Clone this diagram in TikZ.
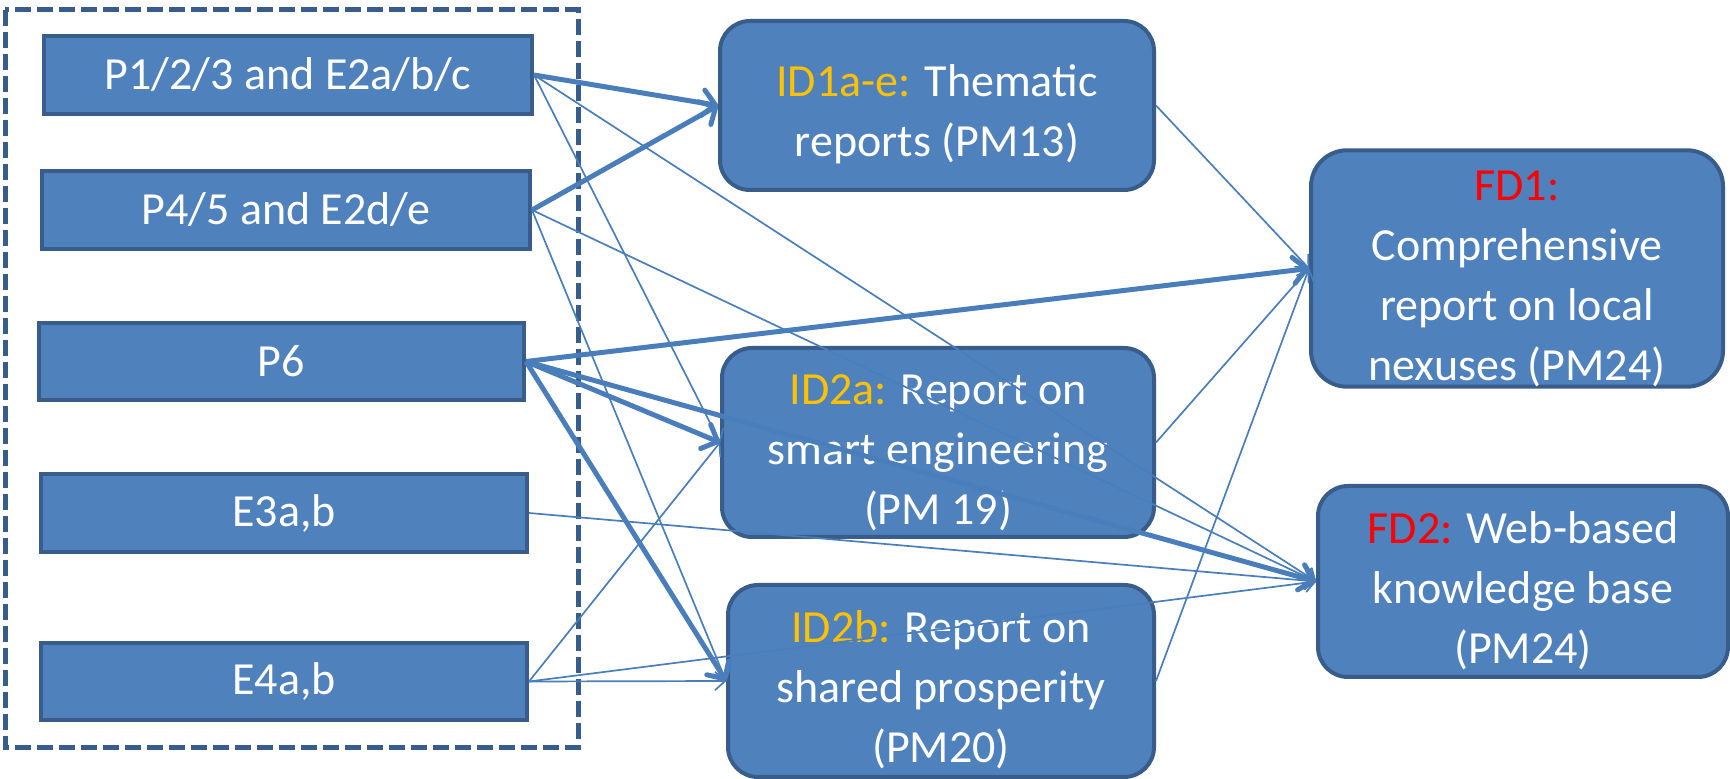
\documentclass[tikz,border=0pt]{standalone}
\usepackage{fontspec}
\setmainfont{Carlito}
\usetikzlibrary{arrows.meta}
\definecolor{boxfill}{HTML}{4F81BD}
\definecolor{boxline}{HTML}{385D8A}
\definecolor{conn}{HTML}{4A7EBB}
\definecolor{idorange}{HTML}{FFC000}
\definecolor{fdred}{HTML}{FF0000}
\newcommand{\firstline}{\rule{0pt}{25pt}}
\begin{document}
\begin{tikzpicture}[x=0.5pt,y=-0.5pt,
  base/.style={draw=boxline, line width=2pt, fill=boxfill, text=white,
    font=\fontsize{23}{30}\selectfont, inner sep=0pt, align=center},
  srcbox/.style={base, rectangle, minimum height=39pt, minimum width=243pt},
  outbox/.style={base, rectangle, rounded corners=15pt},
  thinarrow/.style={draw=conn, line width=0.85pt, -{Straight Barb[round,length=5pt,width=9pt]}},
  thickarrow/.style={draw=conn, line width=2.5pt, -{Straight Barb[round,length=6.5pt,width=13pt]}},
  groupbox/.style={draw=boxline, line width=2.5pt, dash pattern=on 8pt off 3pt},
]
\useasboundingbox (0,0) rectangle (1730,779);

\draw[groupbox] (5,10) rectangle (578,748);

\node[srcbox, minimum width=244pt] (b1) at (288,75) {P1/2/3 and E2a/b/c};
\node[srcbox, minimum width=244pt] (b2) at (286,210) {P4/5 and E2d/e};
\node[srcbox, minimum width=242.5pt, minimum height=38.5pt] (b3) at (281.5,361.5) {P6};
\node[srcbox] (b4) at (284,513) {E3a,b};
\node[srcbox, minimum height=38.5pt] (b5) at (284,681.5) {E4a,b};

\node[outbox, minimum width=217pt, minimum height=84.5pt] (m1) at (937,105.5)
  {\firstline\textcolor{idorange}{ID1a-e:} Thematic\\reports (PM13)};
\node[outbox, minimum width=216pt, minimum height=94.5pt] (m2) at (938,442.5)
  {\firstline\textcolor{idorange}{ID2a:} Report on\\smart engineering\\(PM 19)};
\node[outbox, minimum width=213pt, minimum height=96pt] (m3) at (941,681)
  {\firstline\textcolor{idorange}{ID2b:} Report on\\shared prosperity\\(PM20)};

\node[outbox, rounded corners=18pt, minimum width=206pt, minimum height=114.5pt] (f1) at (1517,268.5)
  {\firstline\textcolor{fdred}{FD1:}\\Comprehensive\\report on local\\nexuses (PM24)};
\node[outbox, minimum width=205pt, minimum height=95.5pt] (f2) at (1523,581.5)
  {\firstline\textcolor{fdred}{FD2:} Web-based\\knowledge base\\(PM24)};

\draw[thickarrow] (b1.east) -- (m1.west);
\draw[thinarrow] (b1.east) -- (m2.west);
\draw[thinarrow] (b1.east) -- (f2.west);
\draw[thickarrow] (b2.east) -- (m1.west);
\draw[thinarrow] (b2.east) -- (m3.west);
\draw[thinarrow] (b2.east) -- (f2.west);
\draw[thickarrow] (b3.east) -- (f1.west);
\draw[thickarrow] (b3.east) -- (m2.west);
\draw[thickarrow] (b3.east) -- (f2.west);
\draw[thickarrow] (b3.east) -- (m3.west);
\draw[thinarrow] (b4.east) -- (f2.west);
\draw[thinarrow] (b5.east) -- (m2.west);
\draw[thinarrow] (b5.east) -- (m3.west);
\draw[thinarrow] (b5.east) -- (f2.west);
\draw[thinarrow] (m1.east) -- (f1.west);
\draw[thinarrow] (m2.east) -- (f1.west);
\draw[thinarrow] (m3.east) -- (f1.west);
\end{tikzpicture}
\end{document}
